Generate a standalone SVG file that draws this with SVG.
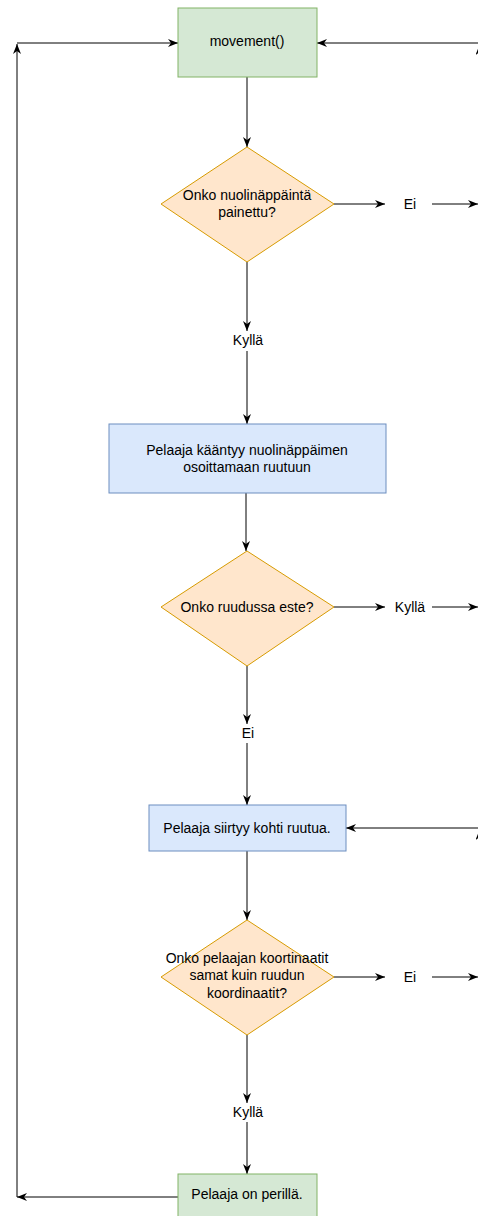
<svg xmlns="http://www.w3.org/2000/svg" width="478" height="1216" viewBox="0 0 478 1216">
<style>
.t{font-family:"Liberation Sans",Arial,sans-serif;font-size:14px;fill:#000;text-anchor:middle;dominant-baseline:central}
.g{fill:#d5e8d4;stroke:#82b366;stroke-width:1}
.o{fill:#ffe6cc;stroke:#d79b00;stroke-width:1}
.b{fill:#dae8fc;stroke:#6c8ebf;stroke-width:1}
.c{fill:none;stroke:#000;stroke-width:1;marker-end:url(#a)}
</style>
<defs>
<marker id="a" viewBox="0 0 10 8" refX="10" refY="4" markerWidth="10" markerHeight="8" markerUnits="userSpaceOnUse" orient="auto">
<path d="M0,0 L10,4 L0,8 L3,4 z" fill="#000"/>
</marker>
</defs>
<rect width="478" height="1216" fill="#fff"/>
<g id="connectors">
<path class="c" d="M247,77 V147"/>
<path class="c" d="M334,204 H385"/>
<path class="c" d="M432,204 H478"/>
<path class="c" d="M247,262 V331"/>
<path class="c" d="M247,351 V424"/>
<path class="c" d="M246,493 V551"/>
<path class="c" d="M334,607 H385"/>
<path class="c" d="M432,607 H478"/>
<path class="c" d="M247,666 V724"/>
<path class="c" d="M247,743 V805"/>
<path class="c" d="M247,851 V920"/>
<path class="c" d="M334,977 H385"/>
<path class="c" d="M432,977 H478"/>
<path class="c" d="M247,1035 V1103"/>
<path class="c" d="M247,1122 V1174"/>
<path class="c" d="M178,1197 H17"/>
<path class="c" d="M17,1197 V44"/>
<path class="c" d="M17,43 H178"/>
<path class="c" d="M478,43 H317"/>
<path class="c" d="M478,828 H346"/>
<path class="c" d="M479.5,70 V45"/>
<path class="c" d="M479.5,855 V830"/>
<text class="t" x="410" y="204">Ei</text>
<text class="t" x="248" y="340">Kyllä</text>
<text class="t" x="410" y="607">Kyllä</text>
<text class="t" x="248" y="733">Ei</text>
<text class="t" x="410" y="977">Ei</text>
<text class="t" x="248" y="1112">Kyllä</text>
</g>
<g id="start">
<rect class="g" x="178" y="8" width="139" height="69"/>
<text class="t" x="247" y="41">movement()</text>
</g>
<g id="d1">
<polygon class="o" points="247,147 334,204 247,262 161,204"/>
<text class="t" x="247" y="195">Onko nuolinäppäintä</text>
<text class="t" x="247" y="212">painettu?</text>
</g>
<g id="p1">
<rect class="b" x="109" y="424" width="277" height="69"/>
<text class="t" x="247" y="450">Pelaaja kääntyy nuolinäppäimen</text>
<text class="t" x="247" y="467">osoittamaan ruutuun</text>
</g>
<g id="d2">
<polygon class="o" points="247,551 334,607 247,666 161,607"/>
<text class="t" x="247" y="607">Onko ruudussa este?</text>
</g>
<g id="p2">
<rect class="b" x="149" y="805" width="197" height="46"/>
<text class="t" x="247" y="828">Pelaaja siirtyy kohti ruutua.</text>
</g>
<g id="d3">
<polygon class="o" points="247,920 334,977 247,1035 161,977"/>
<text class="t" x="247" y="958">Onko pelaajan koortinaatit</text>
<text class="t" x="247" y="975">samat kuin ruudun</text>
<text class="t" x="247" y="993">koordinaatit?</text>
</g>
<g id="end">
<rect class="g" x="178" y="1174" width="139" height="50"/>
<text class="t" x="247" y="1194">Pelaaja on perillä.</text>
</g>
</svg>
